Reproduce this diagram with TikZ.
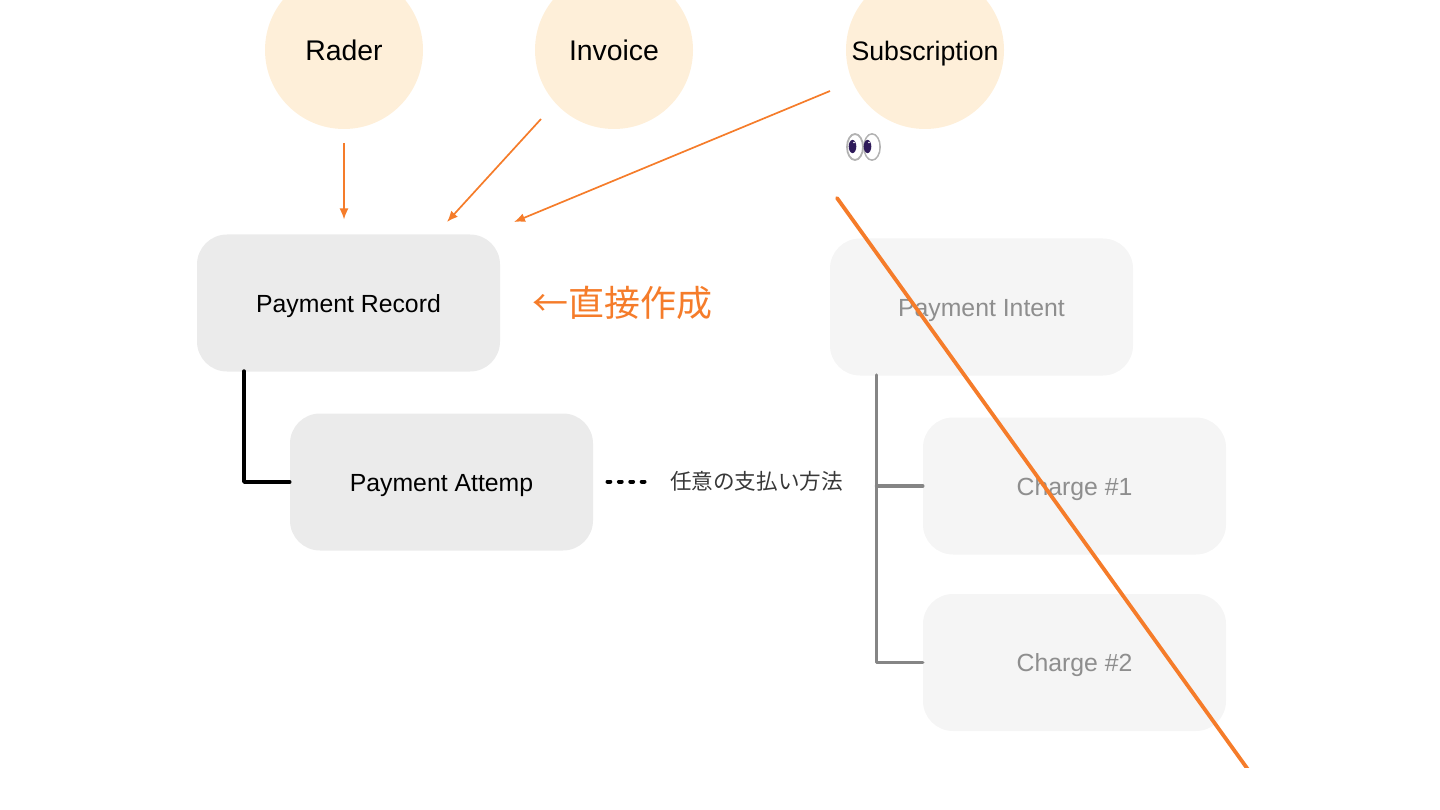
\documentclass[tikz,border=0pt]{standalone}
\usepackage{fontspec}
\setmainfont{Liberation Sans}
\newfontfamily\cjk{Noto Sans CJK JP}
\usetikzlibrary{arrows.meta,calc}
\definecolor{orng}{HTML}{F57C2A}
\definecolor{peach}{HTML}{FEEFD9}
\definecolor{boxa}{HTML}{EBEBEB}
\definecolor{boxb}{HTML}{F5F5F5}
\definecolor{fadetxt}{HTML}{8E8E8E}
\definecolor{fadeline}{HTML}{858585}
\definecolor{pupil}{HTML}{2E1A5A}
\tikzset{
 x=1pt,y=-1pt,
 circ/.style={circle,fill=peach,minimum size=158pt,inner sep=0pt,text=black,text height=27pt,text depth=6pt},
 bx/.style={rectangle,rounded corners=30pt,fill=boxa,minimum width=303pt,minimum height=137pt,inner sep=0pt,text=black,font=\fontsize{24.8}{26}\selectfont,text height=23.5pt,text depth=5pt},
 fbx/.style={bx,fill=boxb,text=fadetxt},
 arr/.style={draw=orng,line width=1.7pt,-{Latex[length=11pt,width=9pt]}},
 tree/.style={draw=black,line width=3.4pt,line cap=round,line join=round},
 ftree/.style={draw=fadeline,line width=3.4pt,line cap=round,line join=round},
}
\begin{document}
\begin{tikzpicture}
\useasboundingbox (0,0) rectangle (1440,810);
\begin{scope}
\clip (0,0) rectangle (1440,810);
\node[circ,font=\fontsize{28.4}{30}\selectfont] (rader) at (344,50) {Rader};
\node[circ,font=\fontsize{28.4}{30}\selectfont] (invoice) at (614,50) {Invoice};
\node[circ,font=\fontsize{26.7}{30}\selectfont] (sub) at (925,50) {Subscription};
\end{scope}
\node[bx] (record) at (348.5,303) {Payment Record};
\node[bx] (attempt) at (441.5,482) {Payment Attemp};
\node[fbx] (intent) at (981.5,307) {Payment Intent};
\node[fbx] (c1) at (1074.5,486) {Charge \#1};
\node[fbx] (c2) at (1074.5,662.5) {Charge \#2};
% orange arrows
\coordinate (r0) at (344,143); \coordinate (r1) at (344,219.5);
\coordinate (i0) at (541,119); \coordinate (i1) at (447,222);
\coordinate (s0) at (830,91);  \coordinate (s1) at (514,222);
\draw[arr] (r0) -- (r1);
\draw[arr] (i0) -- (i1);
\draw[arr] (s0) -- (s1);
% trees
\coordinate (rt) at (244,371);
\coordinate (rc) at (244,482);
\draw[tree] (rt) -- (rc) -- (attempt.west);
\coordinate (it) at (876.5,375);
\coordinate (ib) at (876.5,662.5);
\coordinate (im) at (876.5,486);
\draw[ftree] (it) -- (ib) -- (c2.west);
\draw[ftree] (im) -- (c1.west);
% labels
\node[inner sep=0pt,text=orng,font=\cjk\fontsize{36}{38}\selectfont] (direct) at (622.5,303) {←直接作成};
\coordinate (d0) at (607.5,481.5); \coordinate (d1) at (651,481.5);
\draw[black,line width=4pt,line cap=round,dash pattern=on 2.8pt off 8.6pt] (d0) -- (d1);
\node[inner sep=0pt,text=black!78,font=\cjk\fontsize{21.6}{24}\selectfont] (any) at (756.5,481.5) {任意の支払い方法};
% eyes
\filldraw[draw=black!30,line width=1.8pt,fill=white] (872,147) ellipse (8pt and 13pt);
\filldraw[draw=black!30,line width=1.8pt,fill=white] (855,147) ellipse (8pt and 13pt);
\fill[white] (872,147) ellipse (7.2pt and 12.2pt);
\fill[pupil] (852.5,146.5) ellipse (3.8pt and 6.6pt);
\fill[pupil] (867.5,146.5) ellipse (3.8pt and 6.6pt);
\fill[white] (854,142.5) circle (0.8pt);
\fill[white] (869,142.5) circle (0.8pt);
% strike
\coordinate (k0) at (837,198); \coordinate (k1) at (1250.5,773);
\begin{scope}
\clip (0,0) rectangle (1440,767);
\draw[orng,line width=3.8pt,line cap=round] (k0) -- (k1);
\end{scope}
\end{tikzpicture}
\end{document}
